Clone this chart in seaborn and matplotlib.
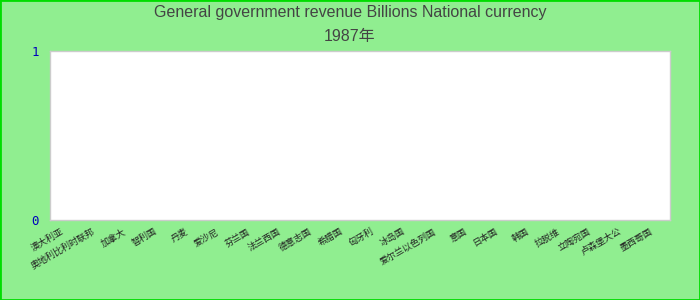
import numpy as np
import pandas as pd
import matplotlib
matplotlib.use("Agg")
import matplotlib.pyplot as plt
import seaborn as sns
from matplotlib.patches import Rectangle

# ---- data (no values are shown for 1987) ----
categories = ["澳大利亚", "奥地利比利时联邦", "加拿大", "智利国", "丹麦", "爱沙尼", "芬兰国",
              "法兰西国", "德意志国", "希腊国", "匈牙利", "冰岛国", "爱尔兰以色列国", "意国",
              "日本国", "韩国", "拉脱维", "立陶宛国", "卢森堡大公", "墨西哥国"]
values = [np.nan] * len(categories)
title_line1 = "General government revenue Billions National currency"
title_line2 = "1987年"
y_ticks = [0, 1]

df = pd.DataFrame({"country": categories, "value": values})

sns.set_theme(style="white")
plt.rcParams["font.family"] = ["Noto Sans CJK SC", "DejaVu Sans"]

fig = plt.figure(figsize=(7, 3), dpi=100, facecolor="#90EE90")
ax = fig.add_axes([50/700, 1-220/300, 620/700, 169/300])
ax.set_facecolor("white")

try:
    sns.barplot(data=df, x="country", y="value", order=categories, ax=ax, color="#4472C4")
except Exception:
    pass

ax.set_xlim(-0.5, len(categories) - 0.5)
ax.set_ylim(0, 1)
ax.set_xticks(range(len(categories)))
ax.set_xticklabels(categories, rotation=30, ha="right", fontsize=6.5, color="#222222",
                   family=["Noto Sans CJK SC", "DejaVu Sans"])
ax.set_yticks(y_ticks)
ax.set_yticklabels([str(t) for t in y_ticks], fontsize=9, color="#0000BB",
                   family="DejaVu Sans Mono")
ax.tick_params(axis="both", length=0)
ax.tick_params(axis="y", pad=8)
ax.tick_params(axis="x", pad=5)
ax.set_xlabel("")
ax.set_ylabel("")
for s in ax.spines.values():
    s.set_color("#cccccc")
    s.set_linewidth(1)

fig.text(0.5, 1-13/300, title_line1, ha="center", va="center", fontsize=11.5,
         color="#444444", family=["Liberation Sans", "Noto Sans CJK SC"])
fig.text(0.5, 1-37/300, title_line2, ha="center", va="center", fontsize=11.5,
         color="#444444", family=["Liberation Sans", "Noto Sans CJK SC"])

fig.patches.append(Rectangle((0, 0), 1, 1, transform=fig.transFigure, fill=False,
                             edgecolor="#00DD00", linewidth=2, zorder=10))

fig.savefig("out.png", dpi=100, facecolor=fig.get_facecolor())
